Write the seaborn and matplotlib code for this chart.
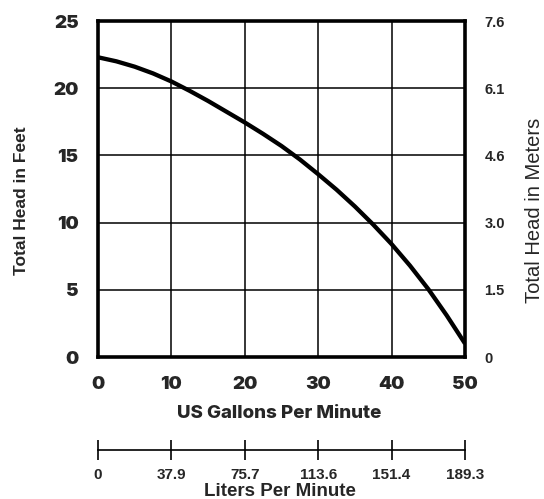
import matplotlib
matplotlib.use("Agg")
import matplotlib.pyplot as plt
import seaborn as sns
import pandas as pd

gpm = [0, 2.5, 5, 7.5, 10, 12.5, 15, 17.5, 20, 22.5, 25, 27.5, 30, 32.5, 35, 37.5, 40, 42.5, 45, 47.5, 50]
head_ft = [22.3, 22.0, 21.6, 21.1, 20.5, 19.8, 19.05, 18.25, 17.45, 16.6, 15.7, 14.7, 13.6, 12.45, 11.2,
           9.85, 8.4, 6.8, 5.05, 3.1, 1.0]
ft_ticks = [0, 5, 10, 15, 20, 25]
m_labels = ["0", "1.5", "3.0", "4.6", "6.1", "7.6"]
gpm_ticks = [0, 10, 20, 30, 40, 50]
lpm_labels = ["0", "37.9", "75.7", "113.6", "151.4", "189.3"]

sns.set_theme(style="white")
plt.rcParams['font.family'] = ['Inter', 'DejaVu Sans']
HELV = ['Liberation Sans', 'DejaVu Sans']

W, H = 544, 499
fig = plt.figure(figsize=(W/100, H/100), dpi=100)
L, R, T, B = 98, 465, 21, 357
ax = fig.add_axes([L/W, 1-B/H, (R-L)/W, (B-T)/H])

df = pd.DataFrame({"gpm": gpm, "ft": head_ft})
sns.lineplot(data=df, x="gpm", y="ft", ax=ax, color="black", lw=3.1)
ax.lines[0].set_solid_capstyle("butt")
ax.set_xlim(0, 50)
ax.set_ylim(0, 25)
ax.set_xticks(gpm_ticks)
ax.set_yticks(ft_ticks)
ax.grid(True, color="black", lw=1.1)
for s in ax.spines.values():
    s.set_color("black")
    s.set_linewidth(2.6)
ax.tick_params(length=0, pad=14, labelsize=13.5)
for lab in ax.get_xticklabels() + ax.get_yticklabels():
    lab.set_fontweight(900)
ax.set_xlabel("")
ax.set_ylabel("")

ax2 = ax.twinx()
ax2.set_ylim(0, 25)
ax2.set_yticks(ft_ticks)
ax2.set_yticklabels(m_labels, family=HELV, fontweight="bold", fontsize=10.5)
ax2.tick_params(length=0, pad=14)
for s in ax2.spines.values():
    s.set_visible(False)

ax3 = fig.add_axes([L/W, 1-450/H, (R-L)/W, 0.0001])
ax3.set_xlim(0, 50)
ax3.set_ylim(0, 1)
ax3.set_xticks(gpm_ticks)
ax3.set_xticklabels(lpm_labels, family=HELV, fontweight="bold", fontsize=11)
ax3.set_yticks([])
for k in ["top", "left", "right"]:
    ax3.spines[k].set_visible(False)
ax3.spines["bottom"].set_color("black")
ax3.spines["bottom"].set_linewidth(1.2)
ax3.tick_params(axis="x", direction="inout", length=14, width=1.2, color="black", pad=6, bottom=True)

def px(x, y):
    return x / W, 1 - y / H

fig.text(*px(279, 413), "US Gallons Per Minute", fontsize=13.5, fontweight=800,
         ha="center", va="center")
fig.text(*px(22, 201), "Total Head in Feet", family=HELV, fontsize=12.5, fontweight="bold",
         rotation=90, ha="center", va="center")
fig.text(*px(535, 210), "Total Head in Meters", family=HELV, fontsize=14.5,
         rotation=90, ha="center", va="center")
fig.text(*px(280, 491), "Liters Per Minute", family=HELV, fontsize=13.5, fontweight="bold",
         ha="center", va="center")

fig.savefig("out.png", dpi=100)
